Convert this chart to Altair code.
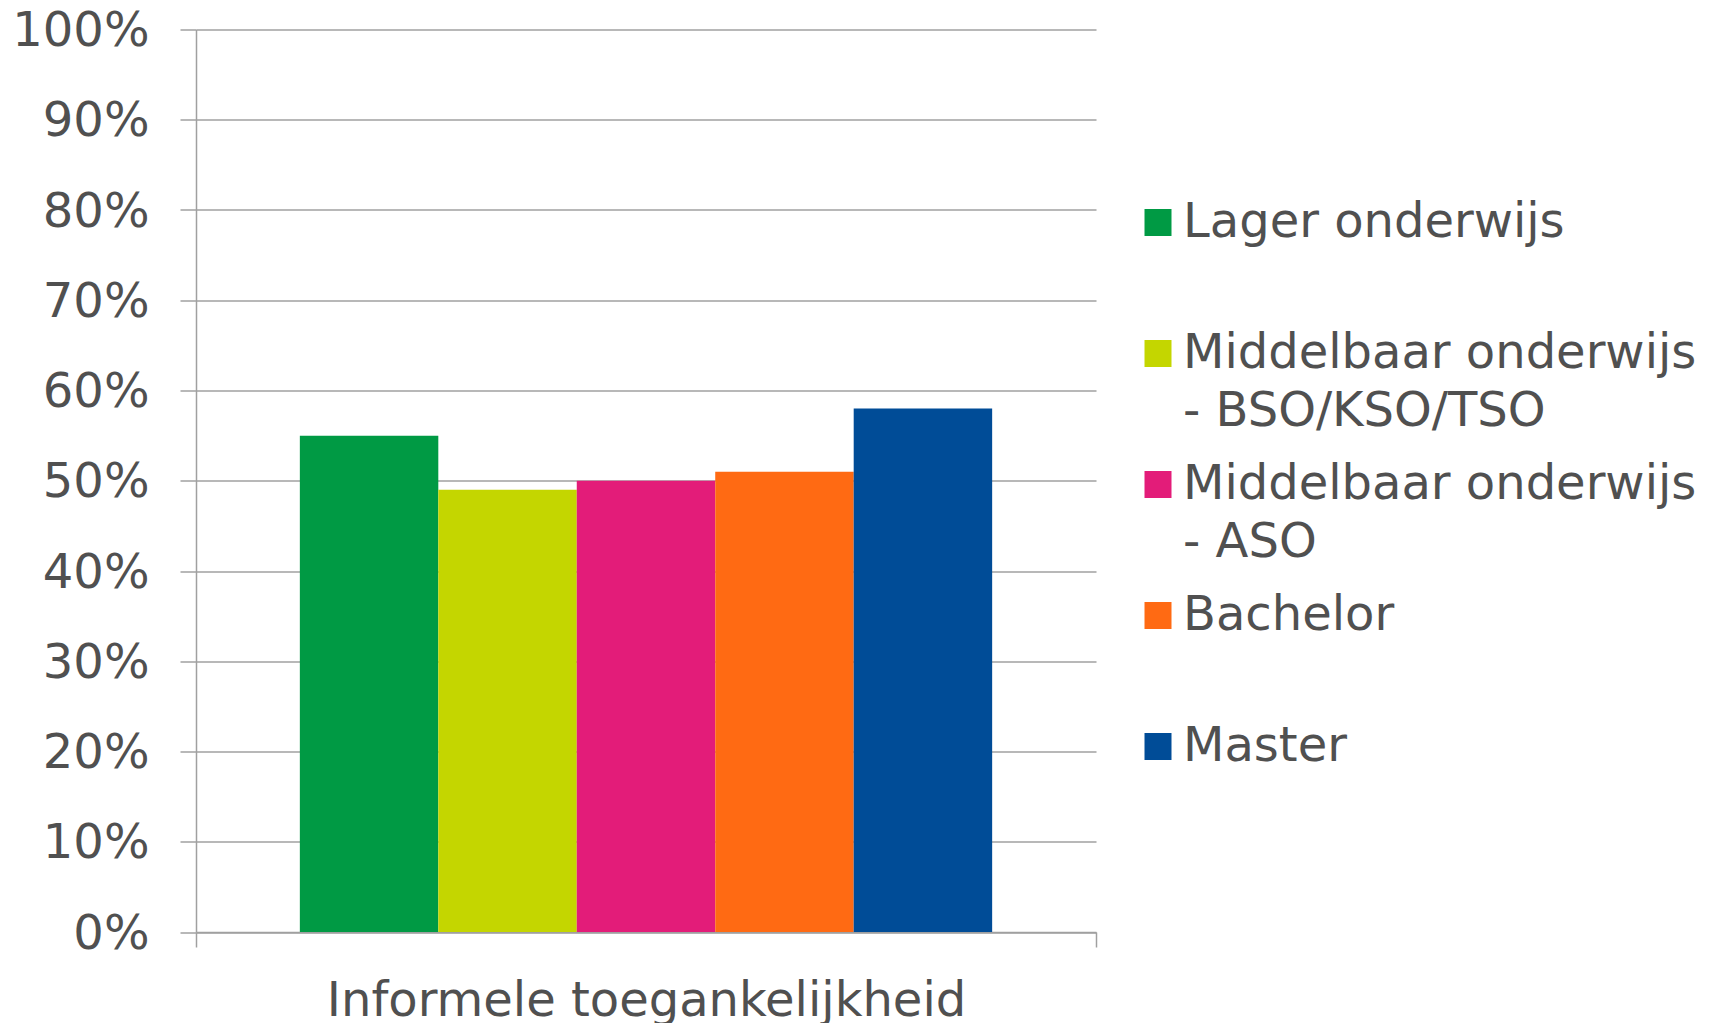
import altair as alt
import pandas as pd

# ---- data ----
categories = ["Informele toegankelijkheid"]
series = [
    "Lager onderwijs",
    "Middelbaar onderwijs - BSO/KSO/TSO",
    "Middelbaar onderwijs - ASO",
    "Bachelor",
    "Master",
]
values = [0.55, 0.49, 0.50, 0.51, 0.58]
colors = ["#009A44", "#C4D600", "#E31C79", "#FF6A13", "#004C97"]
y_ticks = [0.0, 0.1, 0.2, 0.3, 0.4, 0.5, 0.6, 0.7, 0.8, 0.9, 1.0]

df = pd.DataFrame({
    "categorie": categories * len(series),
    "opleiding": series,
    "aandeel": values,
})

TEXT = "#505050"
LINE = "#a0a0a0"
FONT = "DejaVu Sans"

# legend labels wrap at " - "; every label gets two lines so rows are evenly spaced
label_expr = (
    "indexof(datum.label, ' - ') >= 0 ? "
    "[substring(datum.label, 0, indexof(datum.label, ' - ')), "
    "substring(datum.label, indexof(datum.label, ' - ') + 1)] : "
    "[datum.label, '']"
)

chart = alt.Chart(df).mark_bar().encode(
    x=alt.X(
        "categorie:N",
        title=None,
        scale=alt.Scale(paddingInner=0, paddingOuter=0),
        axis=alt.Axis(
            labelAngle=0,
            tickBand="extent",
            tickSize=15,
            labelPadding=30,
            labelFontSize=48,
            labelColor=TEXT,
            labelFont=FONT,
            domainColor=LINE,
            tickColor=LINE,
            domainWidth=1.5,
            tickWidth=1.5,
            labelLimit=1000,
        ),
    ),
    xOffset=alt.XOffset(
        "opleiding:N",
        sort=series,
        scale=alt.Scale(paddingInner=0, paddingOuter=0.75),
    ),
    y=alt.Y(
        "aandeel:Q",
        title=None,
        scale=alt.Scale(domain=[0, 1]),
        axis=alt.Axis(
            values=y_ticks,
            format=".0%",
            tickSize=16,
            labelPadding=31,
            labelFontSize=48,
            labelColor=TEXT,
            labelFont=FONT,
            labelOffset=2,
            domainColor=LINE,
            tickColor=LINE,
            gridColor=LINE,
            domainWidth=1.5,
            tickWidth=1.5,
            gridWidth=1.5,
        ),
    ),
    color=alt.Color(
        "opleiding:N",
        sort=series,
        scale=alt.Scale(domain=series, range=colors),
        legend=alt.Legend(
            title=None,
            orient="none",
            legendX=938,
            legendY=169,
            padding=0,
            symbolType="square",
            symbolSize=729,
            symbolStrokeWidth=0,
            symbolOpacity=1,
            labelFontSize=48,
            labelFont=FONT,
            labelColor=TEXT,
            labelOffset=1,
            labelLimit=1000,
            labelBaseline="middle",
            rowPadding=25,
            labelExpr=label_expr,
        ),
    ),
).properties(
    width=900,
    height=902.5,
    autosize=alt.AutoSizeParams(type="none"),
    padding={"left": 188, "top": 21.5, "right": 609, "bottom": 91},
).configure(
    font=FONT,
    style={"guide-label": {"lineHeight": 58}},
).configure_view(
    strokeWidth=0,
)

chart.save("out.html", embed_options={"renderer": "svg", "actions": False})
